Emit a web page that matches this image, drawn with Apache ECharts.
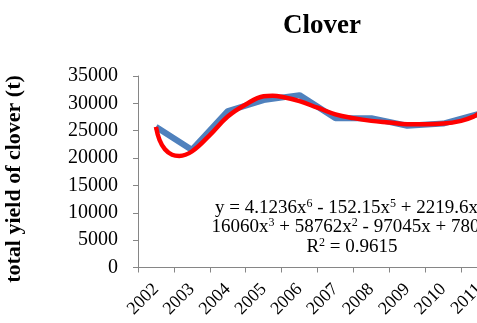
<!DOCTYPE html>
<html>
<head>
<meta charset="utf-8">
<script src="https://cdn.jsdelivr.net/npm/echarts@6/dist/echarts.min.js"></script>
<style>html,body{margin:0;padding:0;background:#fff}#c{width:477px;height:323px}</style>
</head>
<body>
<div id="c"></div>
<script>
var years = ['2002','2003','2004','2005','2006','2007','2008','2009','2010','2011'];
var yieldValues = [25700, 21500, 28600, 30600, 31500, 27300, 27300, 25900, 26300, 28100];
// trendline: [category position (1 = 2002), value]
var trendX = [1.0, 1.1, 1.25, 1.45, 1.65, 2.0, 2.5, 3.0, 3.5, 4.0, 4.25, 4.5, 5.0, 5.5, 6.0, 6.5, 7.0, 7.5, 8.0, 8.5, 9.0, 9.5, 9.85, 10.0];
var trendY = [25700, 23300, 21600, 20600, 20400, 21200, 24200, 27600, 29800, 31300, 31400, 31200, 30400, 29200, 28000, 27300, 26800, 26500, 26200, 26200, 26300, 26800, 27600, 28200];
var yTicks = [0, 5000, 10000, 15000, 20000, 25000, 30000, 35000];
var eqLines = [
  ['y = 4.1236x', '6', ' - 152.15x', '5', ' + 2219.6x', '4', ' -'],
  ['16060x', '3', ' + 58762x', '2', ' - 97045x + 78051'],
  ['R', '2', ' = 0.9615']
];
var yName = 'total yield of clover (t)';

var serif = "'Liberation Serif','Times New Roman',serif";
var chart = echarts.init(document.getElementById('c'));
var trendData = trendX.map(function (x, i) { return [x, trendY[i]]; });

function richText(parts) {
  return parts.map(function (p, i) { return i % 2 === 1 ? '{s|' + p + '}' : '{n|' + p + '}'; }).join('');
}
var graphics = eqLines.map(function (parts, k) {
  return {
    type: 'text', x: [355, 355, 352][k], y: [208, 227, 247][k],
    style: {
      text: richText(parts), align: 'center', verticalAlign: 'middle',
      rich: {
        n: { fontFamily: serif, fontSize: 19, fill: '#000', lineHeight: 20 },
        s: { fontFamily: serif, fontSize: 12, fill: '#000', verticalAlign: 'top', lineHeight: 20 }
      }
    }
  };
});
graphics.push({
  type: 'text', x: 14, y: 179, rotation: Math.PI / 2,
  style: {
    text: yName, align: 'center', verticalAlign: 'middle',
    fontFamily: serif, fontSize: 22, fontWeight: 'bold', fill: '#000'
  }
});

chart.setOption({
  animation: false,
  title: {
    text: 'Clover', left: 317, top: 8, textAlign: 'center',
    textStyle: { fontFamily: serif, fontSize: 27, fontWeight: 'bold', color: '#000' }
  },
  grid: { left: 138, top: 76, width: 359, height: 191.5, containLabel: false, outerBoundsMode: 'none' },
  xAxis: [{
    type: 'category', data: years, boundaryGap: true,
    axisLine: { lineStyle: { color: '#868686', width: 1 } },
    axisTick: { show: true, length: 5, lineStyle: { color: '#868686' } },
    axisLabel: { rotate: 45, interval: 0, margin: 19, fontFamily: serif, fontSize: 18, color: '#000' }
  }, {
    type: 'value', min: 0.5, max: 10.5, show: false
  }],
  yAxis: {
    type: 'value', min: 0, max: 35000, interval: 5000,
    axisLine: { show: true, lineStyle: { color: '#868686', width: 1 } },
    axisTick: { show: true, length: 5, lineStyle: { color: '#868686' } },
    splitLine: { show: false },
    axisLabel: {
      margin: 20, fontFamily: serif, fontSize: 20, color: '#000',
      formatter: function (v) { return yTicks.indexOf(v) >= 0 ? String(v) : ''; }
    }
  },
  series: [{
    type: 'line', data: yieldValues, xAxisIndex: 0, symbol: 'none', smooth: false,
    lineStyle: { color: '#4F81BD', width: 6 }
  }, {
    type: 'line', data: trendData, xAxisIndex: 1, symbol: 'none', smooth: 0.4,
    lineStyle: { color: '#FF0000', width: 4.5 }
  }],
  graphic: graphics
});
</script>
</body>
</html>
